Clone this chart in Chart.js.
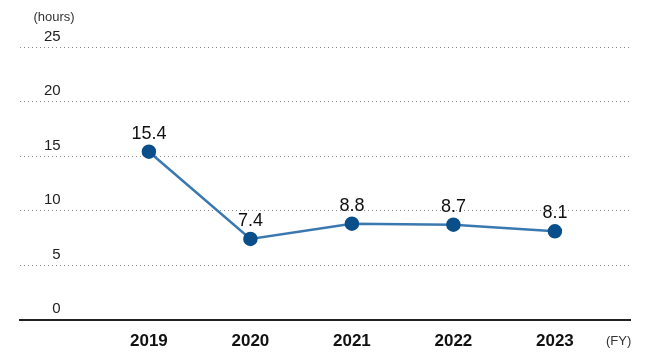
<!DOCTYPE html>
<html>
<head>
<meta charset="utf-8">
<script src="https://cdn.jsdelivr.net/npm/chart.js@4/dist/chart.umd.min.js"></script>
<style>
html,body{margin:0;padding:0;background:#fff;}
#wrap{width:651px;height:361px;position:relative;}
</style>
</head>
<body>
<div id="wrap"><canvas id="c" width="651" height="361"></canvas></div>
<script>
const categories = [2019, 2020, 2021, 2022, 2023];
const hours = [15.4, 7.4, 8.8, 8.7, 8.1];
const yTicks = [0, 5, 10, 15, 20, 25];
const yUnit = '(hours)';
const xUnit = '(FY)';

const FONT = '"Liberation Sans", Arial, sans-serif';

const extras = {
  id: 'extras',
  afterDatasetsDraw(chart) {
    const ctx = chart.ctx;
    const meta = chart.getDatasetMeta(0);
    ctx.save();
    ctx.fillStyle = '#111';
    ctx.font = '18px ' + FONT;
    ctx.textAlign = 'center';
    ctx.textBaseline = 'alphabetic';
    meta.data.forEach((pt, i) => {
      ctx.fillText(hours[i].toFixed(1), pt.x, pt.y - 13);
    });
    ctx.restore();
  },
  afterDraw(chart) {
    const ctx = chart.ctx;
    const y = chart.scales.y;
    ctx.save();
    ctx.fillStyle = '#333';
    ctx.font = '13px ' + FONT;
    ctx.textBaseline = 'middle';
    ctx.textAlign = 'center';
    ctx.fillText(yUnit, 54, y.getPixelForValue(25) - 30);
    ctx.textAlign = 'left';
    ctx.fillText(xUnit, 606, 341);
    ctx.restore();
  }
};

new Chart(document.getElementById('c'), {
  type: 'line',
  data: {
    datasets: [{
      data: categories.map((c, i) => ({x: c, y: hours[i]})),
      borderColor: '#3a78b0',
      borderWidth: 2.5,
      pointBackgroundColor: '#0b4f8a',
      pointBorderColor: '#0b4f8a',
      pointRadius: 6,
      pointHoverRadius: 6,
      tension: 0,
      clip: false
    }]
  },
  options: {
    responsive: false,
    animation: false,
    events: [],
    layout: {padding: {left: 20, right: 21, top: 47, bottom: -3}},
    plugins: {legend: {display: false}, tooltip: {enabled: false}},
    scales: {
      x: {
        type: 'linear',
        min: 2017.73,
        max: 2023.74,
        afterBuildTicks: (s) => { s.ticks = categories.map(v => ({value: v})); },
        grid: {display: false, drawTicks: false},
        border: {display: true, color: '#222', width: 2},
        ticks: {
          callback: (v) => String(v),
          color: '#111',
          padding: 12,
          font: {family: FONT, size: 17, weight: 'bold'},
          maxRotation: 0,
          autoSkip: false
        }
      },
      y: {
        type: 'linear',
        min: 0,
        max: 25,
        afterBuildTicks: (s) => { s.ticks = yTicks.map(v => ({value: v})); },
        afterFit: (s) => { s.width = 0; },
        grid: {color: '#8a8a8a', lineWidth: 1, drawTicks: false},
        border: {display: false, dash: [1, 3]},
        ticks: {
          mirror: true,
          crossAlign: 'far',
          padding: 24,
          labelOffset: -10.5,
          color: '#222',
          font: {family: FONT, size: 15}
        }
      }
    }
  },
  plugins: [extras]
});
</script>
</body>
</html>
